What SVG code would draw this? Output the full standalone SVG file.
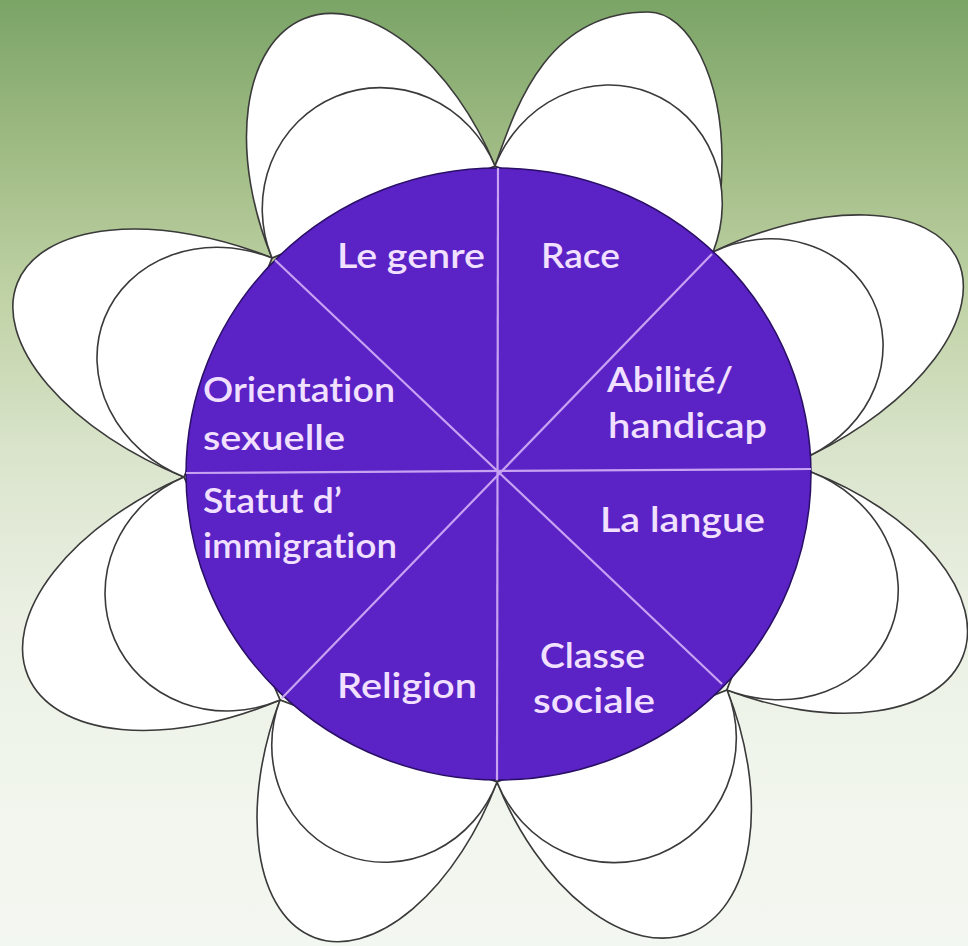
<svg xmlns="http://www.w3.org/2000/svg" width="968" height="946" viewBox="0 0 968 946">
  <defs>
    <linearGradient id="bg" x1="0" y1="0" x2="0" y2="1">
      <stop offset="0" stop-color="#7ba467"/>
      <stop offset="0.17" stop-color="#a2bd86"/>
      <stop offset="0.32" stop-color="#c1d3a7"/>
      <stop offset="0.48" stop-color="#dae4cc"/>
      <stop offset="0.63" stop-color="#e9efe1"/>
      <stop offset="0.8" stop-color="#f0f5ec"/>
      <stop offset="1" stop-color="#f3f7f1"/>
    </linearGradient>
  </defs>
  <style>
    .petal { fill: #ffffff; stroke: #3a3a3a; stroke-width: 1.6; }
    .disc { fill: #5b22c6; stroke: #2a0f66; stroke-width: 1.5; }
    .div { stroke: #c8a2f2; stroke-width: 2.2; fill: none; }
    .lbl { font-family: Lato, "Open Sans", "Liberation Sans", sans-serif; font-size: 35px; font-weight: 600; fill: #f1e0ff; font-variant-ligatures: none; }
  </style>

  <rect x="0" y="0" width="968" height="946" fill="url(#bg)"/>

  <g id="petals">
    <g id="petal-tr">
      <path class="petal" d="M495,166 C515,110 545,12 648,12 C690,12 722,80 722,160 C722,205 716,235 713,252 Z"/>
      <g transform="translate(604,209) rotate(21.5)">
        <path class="petal" d="M-117.2,0 A117.2,125 0 0 1 117.2,0Z"/>
      </g>
    </g>
    <g id="petal-ru" transform="translate(762,353.5) rotate(64.2)">
      <path class="petal" d="M-112.7,0 A112.7,217 0 0 1 112.7,0Z"/>
      <path class="petal" d="M-112.7,0 A112.7,123 0 0 1 112.7,0Z"/>
    </g>
    <g id="petal-rl" transform="translate(769,581) rotate(111.1)">
      <path class="petal" d="M-116.8,0 A116.8,208 0 0 1 116.8,0Z"/>
      <path class="petal" d="M-116.8,0 A116.8,131 0 0 1 116.8,0Z"/>
    </g>
    <g id="petal-br" transform="translate(612,736) rotate(158.2)">
      <path class="petal" d="M-123.9,0 A123.9,212 0 0 1 123.9,0Z"/>
      <path class="petal" d="M-123.9,0 A123.9,127 0 0 1 123.9,0Z"/>
    </g>
    <g id="petal-bl" transform="translate(388.5,741) rotate(200.7)">
      <path class="petal" d="M-116,0 A116,210 0 0 1 116,0Z"/>
      <path class="petal" d="M-116,0 A116,122 0 0 1 116,0Z"/>
    </g>
    <g id="petal-ll" transform="translate(232,588.5) rotate(246.7)">
      <path class="petal" d="M-121.4,0 A121.4,222 0 0 1 121.4,0Z"/>
      <path class="petal" d="M-121.4,0 A121.4,128 0 0 1 121.4,0Z"/>
    </g>
    <g id="petal-lu" transform="translate(228,367.5) rotate(-68.1)">
      <path class="petal" d="M-118,0 A118,227 0 0 1 118,0Z"/>
      <path class="petal" d="M-118,0 A118,133 0 0 1 118,0Z"/>
    </g>
    <g id="petal-tl" transform="translate(383.5,212) rotate(-22.4)">
      <path class="petal" d="M-120.6,0 A120.6,209 0 0 1 120.6,0Z"/>
      <path class="petal" d="M-120.6,0 A120.6,125 0 0 1 120.6,0Z"/>
    </g>
  </g>

  <g id="disc">
    <ellipse class="disc" cx="498.5" cy="474" rx="312.5" ry="306"/>
  </g>

  <g id="dividers">
    <line class="div" x1="498" y1="168" x2="497" y2="780"/>
    <line class="div" x1="186" y1="473" x2="811" y2="469"/>
    <line class="div" x1="275" y1="260" x2="722" y2="684"/>
    <line class="div" x1="712" y1="254" x2="282" y2="698"/>
  </g>

  <g id="labels">
    <g id="s-genre"><text class="lbl" x="337" y="268" textLength="148" lengthAdjust="spacingAndGlyphs">Le genre</text></g>
    <g id="s-race"><text class="lbl" x="541" y="268" textLength="79" lengthAdjust="spacingAndGlyphs">Race</text></g>
    <g id="s-abilite">
      <text class="lbl" x="607" y="392" textLength="126" lengthAdjust="spacingAndGlyphs">Abilité/</text>
      <text class="lbl" x="608" y="438" textLength="159" lengthAdjust="spacingAndGlyphs">handicap</text>
    </g>
    <g id="s-langue"><text class="lbl" x="600" y="532" textLength="165" lengthAdjust="spacingAndGlyphs">La langue</text></g>
    <g id="s-classe">
      <text class="lbl" x="540" y="668" textLength="105" lengthAdjust="spacingAndGlyphs">Classe</text>
      <text class="lbl" x="533" y="713" textLength="122" lengthAdjust="spacingAndGlyphs">sociale</text>
    </g>
    <g id="s-religion"><text class="lbl" x="337" y="698" textLength="140" lengthAdjust="spacingAndGlyphs">Religion</text></g>
    <g id="s-statut">
      <text class="lbl" x="203" y="513" textLength="139" lengthAdjust="spacingAndGlyphs">Statut d’</text>
      <text class="lbl" x="203" y="558" textLength="194" lengthAdjust="spacingAndGlyphs">immigration</text>
    </g>
    <g id="s-orientation">
      <text class="lbl" x="203" y="402" textLength="192" lengthAdjust="spacingAndGlyphs">Orientation</text>
      <text class="lbl" x="203" y="450" textLength="142" lengthAdjust="spacingAndGlyphs">sexuelle</text>
    </g>
  </g>
</svg>
